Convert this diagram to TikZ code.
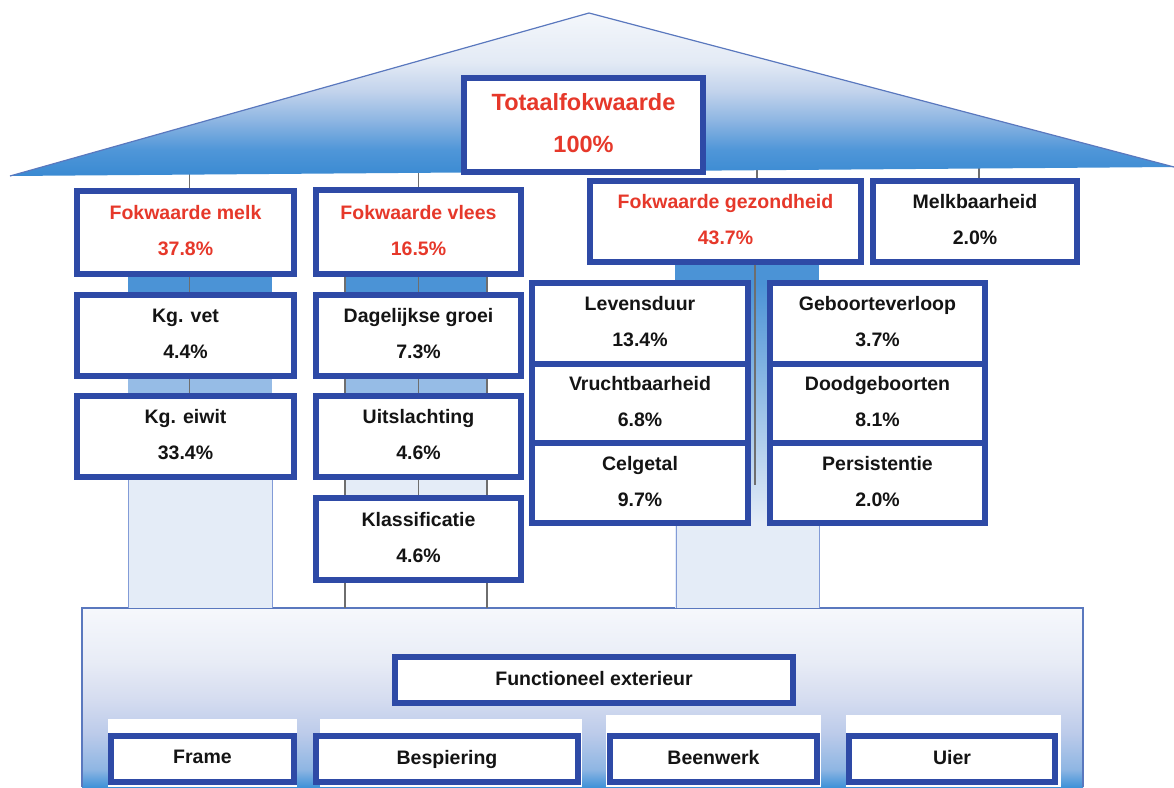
\documentclass[tikz,border=0pt]{standalone}
\usepackage{fontspec}
\setmainfont{Liberation Sans}
\definecolor{bord}{RGB}{46,74,166}
\definecolor{redt}{RGB}{230,56,42}
\definecolor{txt}{RGB}{20,20,20}
\definecolor{pblue}{RGB}{75,147,214}
\definecolor{pmid}{RGB}{150,188,230}
\definecolor{plight}{RGB}{228,236,247}
\definecolor{pedge}{RGB}{130,155,215}
\definecolor{gline}{RGB}{110,110,110}
\definecolor{roofline}{RGB}{90,120,190}
\definecolor{rA}{RGB}{58,138,210}
\definecolor{rB}{RGB}{79,150,216}
\definecolor{rC}{RGB}{141,181,226}
\definecolor{rD}{RGB}{194,211,236}
\definecolor{rE}{RGB}{227,234,245}
\definecolor{rF}{RGB}{244,247,251}
\definecolor{bA}{RGB}{63,146,216}
\definecolor{bB}{RGB}{143,182,227}
\definecolor{bC}{RGB}{188,203,234}
\definecolor{bD}{RGB}{214,221,240}
\definecolor{bE}{RGB}{232,236,246}
\definecolor{bF}{RGB}{246,248,252}
\pgfdeclareverticalshading{roofshade}{100bp}{color(0bp)=(rA); color(25bp)=(rA); color(33bp)=(rB); color(42bp)=(rC); color(51bp)=(rD); color(60bp)=(rE); color(75bp)=(rF); color(100bp)=(rF)}
\pgfdeclareverticalshading{baseshade}{100bp}{color(0bp)=(bA); color(25bp)=(bA); color(30bp)=(bB); color(40bp)=(bC); color(50bp)=(bD); color(60bp)=(bE); color(75bp)=(bF); color(100bp)=(bF)}
\pgfdeclarelayer{lzero}
\pgfdeclarelayer{lone}
\pgfdeclarelayer{ltwo}
\pgfsetlayers{lzero,lone,ltwo,main}
\begin{document}
\begin{tikzpicture}[x=1pt,y=-1pt,
 box/.style={draw=bord,line width=6pt,fill=white,inner sep=0pt,align=center,text=txt,
   font=\bfseries\fontsize{19.5}{36}\selectfont,
   execute at end node={\rule[-4pt]{0pt}{4pt}}},
 redbox/.style={box,text=redt},
 sz/.style 2 args={minimum width=#1pt,minimum height=#2pt},
 conn/.style={draw=gline,line width=1.3pt},
 pedgeline/.style={draw=pedge,line width=1pt},
]
\useasboundingbox (0,0) rectangle (1174,787);

% ---------- nodes ----------
\node[redbox,sz={239}{94},font=\bfseries\fontsize{23.5}{42}\selectfont] (tot) at (583.5,125) {Totaalfokwaarde\\100\%};
\node[redbox,sz={217}{83}] (melk) at (185.5,232.5) {Fokwaarde melk\\37.8\%};
\node[redbox,sz={205}{84}] (vlees) at (418.5,232) {Fokwaarde vlees\\16.5\%};
\node[redbox,sz={271}{81}] (gez) at (725.5,221.5) {Fokwaarde gezondheid\\43.7\%};
\node[box,sz={204}{81}] (mkb) at (975,221.5) {Melkbaarheid\\2.0\%};

\node[box,sz={217}{81}] (vet) at (185.5,335.5) {Kg. vet\\4.4\%};
\node[box,sz={217}{81}] (eiwit) at (185.5,436.5) {Kg. eiwit\\33.4\%};
\node[box,sz={205}{81}] (groei) at (418.5,335.5) {Dagelijkse groei\\7.3\%};
\node[box,sz={205}{81}] (uitsl) at (418.5,436.5) {Uitslachting\\4.6\%};
\node[box,sz={205}{82}] (klass) at (418.5,539) {Klassificatie\\4.6\%};

\node[box,sz={216}{81}] (leven) at (640,323.5) {Levensduur\\13.4\%};
\node[box,sz={216}{79}] (vrucht) at (640,403.5) {Vruchtbaarheid\\6.8\%};
\node[box,sz={216}{80}] (cel) at (640,483) {Celgetal\\9.7\%};
\node[box,sz={215}{81}] (geb) at (877.5,323.5) {Geboorteverloop\\3.7\%};
\node[box,sz={215}{79}] (dood) at (877.5,403.5) {Doodgeboorten\\8.1\%};
\node[box,sz={215}{80}] (pers) at (877.5,483) {Persistentie\\2.0\%};

\node[box,sz={398}{46}] (func) at (594,680) {Functioneel exterieur};
\node[box,sz={183}{46}] (frame) at (202.5,759) {Frame};
\node[box,sz={262}{46}] (besp) at (447,759) {Bespiering};
\node[box,sz={207}{46}] (been) at (713.5,759) {Beenwerk};
\node[box,sz={206}{46}] (uier) at (952,759) {Uier};

% ---------- coordinates ----------
\coordinate (roofL) at (10,176);
\coordinate (apex) at (589,13);
\coordinate (roofR) at (1174,167);
\coordinate (ridge) at (589,150);
\coordinate (basetop) at (82,608);
\coordinate (gcol) at (755,485);

% ---------- connectors under the roof ----------
\begin{pgfonlayer}{lzero}
 \draw[conn] ([xshift=4]melk.north) -- ([xshift=4]melk.north |- ridge);
 \draw[conn] (vlees.north) -- (vlees.north |- ridge);
 \draw[conn] ([xshift=31.5]gez.north) -- ([xshift=31.5]gez.north |- ridge);
 \draw[conn] ([xshift=4]mkb.north) -- ([xshift=4]mkb.north |- ridge);
\end{pgfonlayer}

% ---------- roof, base, pillars ----------
\begin{pgfonlayer}{lone}
 \shade[shading=roofshade] (roofL) -- (apex) -- (roofR) -- cycle;
 \draw[roofline,line width=1.2pt,line join=round] (roofL) -- (apex) -- (roofR);

 % base block
 \shade[shading=baseshade] (82,608) rectangle (1083,787);
 \draw[draw=roofline,line width=1.2pt] (82,787) -- (82,608) -- (1083,608) -- (1083,787);
 % white panels behind bottom boxes
 \fill[white] (108,719) rectangle (297,787);
 \fill[white] (320,719) rectangle (582,787);
 \fill[white] (606,715) rectangle (821,787);
 \fill[white] (846,715) rectangle (1061,787);

 % melk pillar
 \fill[pblue] (128,274) rectangle (272,295);
 \fill[pmid] (128,376) rectangle (272,396);
 \fill[plight] (128,477) rectangle (272,608);
 \draw[pedgeline] (128,477) -- (128,608) (272,477) -- (272,608);

 % vlees pillar
 \fill[pblue] (345,274) rectangle (487,295);
 \fill[pmid] (345,376) rectangle (487,396);
 \fill[plight] (345,477) rectangle (487,498);

 % gezondheid pillar
 \fill[pblue] (675,262) rectangle (819,283);
 \shade[top color=pblue,bottom color=plight] (748,283) rectangle (770,523);
 \fill[plight] (675,523) rectangle (819,608);
 \draw[pedgeline] (676,523) -- (676,608) (819,523) -- (819,608);
\end{pgfonlayer}

% ---------- connectors between stacked boxes ----------
\begin{pgfonlayer}{ltwo}
 \draw[conn] ([xshift=4]melk.south) -- ([xshift=4]vet.north);
 \draw[conn] ([xshift=4]vet.south) -- ([xshift=4]eiwit.north);
 \draw[conn] (vlees.south) -- (groei.north);
 \draw[conn] (groei.south) -- (uitsl.north);
 \draw[conn] (uitsl.south) -- (klass.north);
 \draw[conn] ([xshift=-73.5]vlees.south) -- ([xshift=-73.5]vlees.south |- basetop);
 \draw[conn] ([xshift=68.5]vlees.south) -- ([xshift=68.5]vlees.south |- basetop);
 \draw[conn] (gcol |- gez.south) -- (gcol);
\end{pgfonlayer}
\end{tikzpicture}
\end{document}
